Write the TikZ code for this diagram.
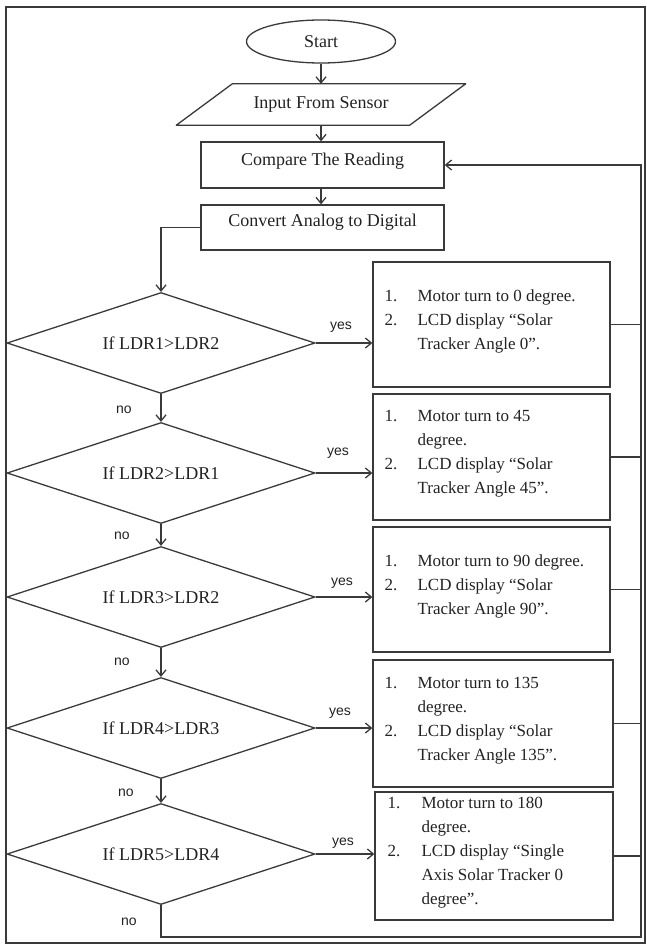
\documentclass[tikz,border=0pt]{standalone}
\usepackage{fontspec}
\setmainfont{Liberation Serif}
\newfontfamily\lsans{Liberation Sans}
\usetikzlibrary{shapes.geometric,arrows.meta}
\definecolor{ln}{HTML}{3A3A3A}
\definecolor{tx}{HTML}{222222}
\begin{document}
\begin{tikzpicture}[x=1pt,y=-1pt,
  line/.style={draw=ln, line width=1.3pt},
  arr/.style={line, -{Straight Barb[length=6pt,width=10pt]}},
  topfont/.style={font=\fontsize{18}{22}\selectfont, text=tx},
  proc/.style={draw=ln, line width=1.3pt, rectangle, inner sep=0pt, topfont},
  dec/.style={diamond, shape aspect=3, draw=ln, line width=1.3pt, minimum width=308pt, minimum height=101pt, inner sep=0pt, topfont},
  actbox/.style={draw=ln, line width=1.3pt, rectangle, inner sep=0pt},
  acttext/.style={anchor=west, inner sep=0pt, font=\fontsize{17}{24}\selectfont, text=tx},
  lab/.style={font=\lsans\fontsize{14}{16}\selectfont, text=tx, inner sep=0pt}
]
\useasboundingbox (0,0) rectangle (646,945);
% frame
\draw[draw=ln, line width=1.6pt] (6,7) rectangle (645,943);

% top chain
\node[ellipse, draw=ln, line width=1.3pt, minimum width=149pt, minimum height=43pt, inner sep=0pt, topfont] (st) at (321,41.5) {Start};
\node[minimum width=233pt, minimum height=41pt, inner sep=0pt, topfont] (in) at (321,104.5) {Input From Sensor};
\draw[line, line join=round] ([xshift=-28pt]in.south west) -- ([xshift=28pt]in.north west) -- ([xshift=28pt]in.north east) -- ([xshift=-28pt]in.south east) -- cycle;
\node[proc, minimum width=243pt, minimum height=46pt, text height=12pt, text depth=12pt] (cmp) at (322.5,165) {Compare The Reading};
\node[proc, minimum width=243pt, minimum height=45pt, text height=12pt, text depth=14pt] (cv) at (322.5,227.5) {Convert Analog to Digital};

\draw[arr] (st.south) -- (in.north);
\draw[arr] (in.south) -- (in.south |- cmp.north);
\draw[arr] (in.south |- cmp.south) -- (in.south |- cv.north);

% decisions
\node[dec] (d1) at (161,343) {If LDR1>LDR2};
\node[dec] (d2) at (161,473) {If LDR2>LDR1};
\node[dec] (d3) at (161,597) {If LDR3>LDR2};
\node[dec] (d4) at (161,728) {If LDR4>LDR3};
\node[dec] (d5) at (161,854) {If LDR5>LDR4};

\draw[arr] (cv.west) -| (d1.north);
\draw[arr] (d1.south) -- (d2.north);
\draw[arr] (d2.south) -- (d3.north);
\draw[arr] (d3.south) -- (d4.north);
\draw[arr] (d4.south) -- (d5.north);

% action boxes
\node[actbox, minimum width=237pt, minimum height=125pt] (b1) at (491.5,324.5) {};
\node[actbox, minimum width=237pt, minimum height=126pt] (b2) at (491.5,457) {};
\node[actbox, minimum width=237pt, minimum height=125pt] (b3) at (491.5,589.5) {};
\node[actbox, minimum width=240pt, minimum height=127pt] (b4) at (493,723.5) {};
\node[actbox, minimum width=238pt, minimum height=128pt] (b5) at (494,856) {};

\node[acttext] (t1) at ([xshift=12pt,yshift=4pt]b1.west) {\begin{tabular}{@{}p{33pt}@{}l@{}}1. & Motor turn to 0 degree.\\ 2. & LCD display “Solar\\ & Tracker Angle 0”.\end{tabular}};
\node[acttext] (t2) at ([xshift=12pt,yshift=4pt]b2.west) {\begin{tabular}{@{}p{33pt}@{}l@{}}1. & Motor turn to 45\\ & degree.\\ 2. & LCD display “Solar\\ & Tracker Angle 45”.\end{tabular}};
\node[acttext] (t3) at ([xshift=12pt,yshift=4pt]b3.west) {\begin{tabular}{@{}p{33pt}@{}l@{}}1. & Motor turn to 90 degree.\\ 2. & LCD display “Solar\\ & Tracker Angle 90”.\end{tabular}};
\node[acttext] (t4) at ([xshift=12pt,yshift=4pt]b4.west) {\begin{tabular}{@{}p{33pt}@{}l@{}}1. & Motor turn to 135\\ & degree.\\ 2. & LCD display “Solar\\ & Tracker Angle 135”.\end{tabular}};
\node[acttext] (t5) at ([xshift=13pt,yshift=4pt]b5.west) {\begin{tabular}{@{}p{34pt}@{}l@{}}1. & Motor turn to 180\\ & degree.\\ 2. & LCD display “Single\\ & Axis Solar Tracker 0\\ & degree”.\end{tabular}};

% yes arrows
\draw[arr] (d1.east) -- (b1.west |- d1.east);
\draw[arr] (d2.east) -- (b2.west |- d2.east);
\draw[arr] (d3.east) -- (b3.west |- d3.east);
\draw[arr] (d4.east) -- (b4.west |- d4.east);
\draw[arr] (d5.east) -- (b5.west |- d5.east);

\node[lab] (y1) at (341,327) {yes};
\node[lab] (y2) at (338,453) {yes};
\node[lab] (y3) at (342,583) {yes};
\node[lab] (y4) at (340,713) {yes};
\node[lab] (y5) at (343,843) {yes};

\node[lab] (n1) at (124,410) {no};
\node[lab] (n2) at (122,536) {no};
\node[lab] (n3) at (122,662) {no};
\node[lab] (n4) at (126,793) {no};
\node[lab] (n5) at (129,922) {no};

% return lines
\coordinate (rb) at (641,937);
\draw[line] (b1.east) -- (b1.east -| rb);
\draw[line] (b2.east) -- (b2.east -| rb);
\draw[line] (b3.east) -- (b3.east -| rb);
\draw[line] (b4.east) -- (b4.east -| rb);
\draw[line] (b5.east) -- (b5.east -| rb);
\draw[arr] (d5.south) |- (rb) |- (cmp.east);
\end{tikzpicture}
\end{document}
